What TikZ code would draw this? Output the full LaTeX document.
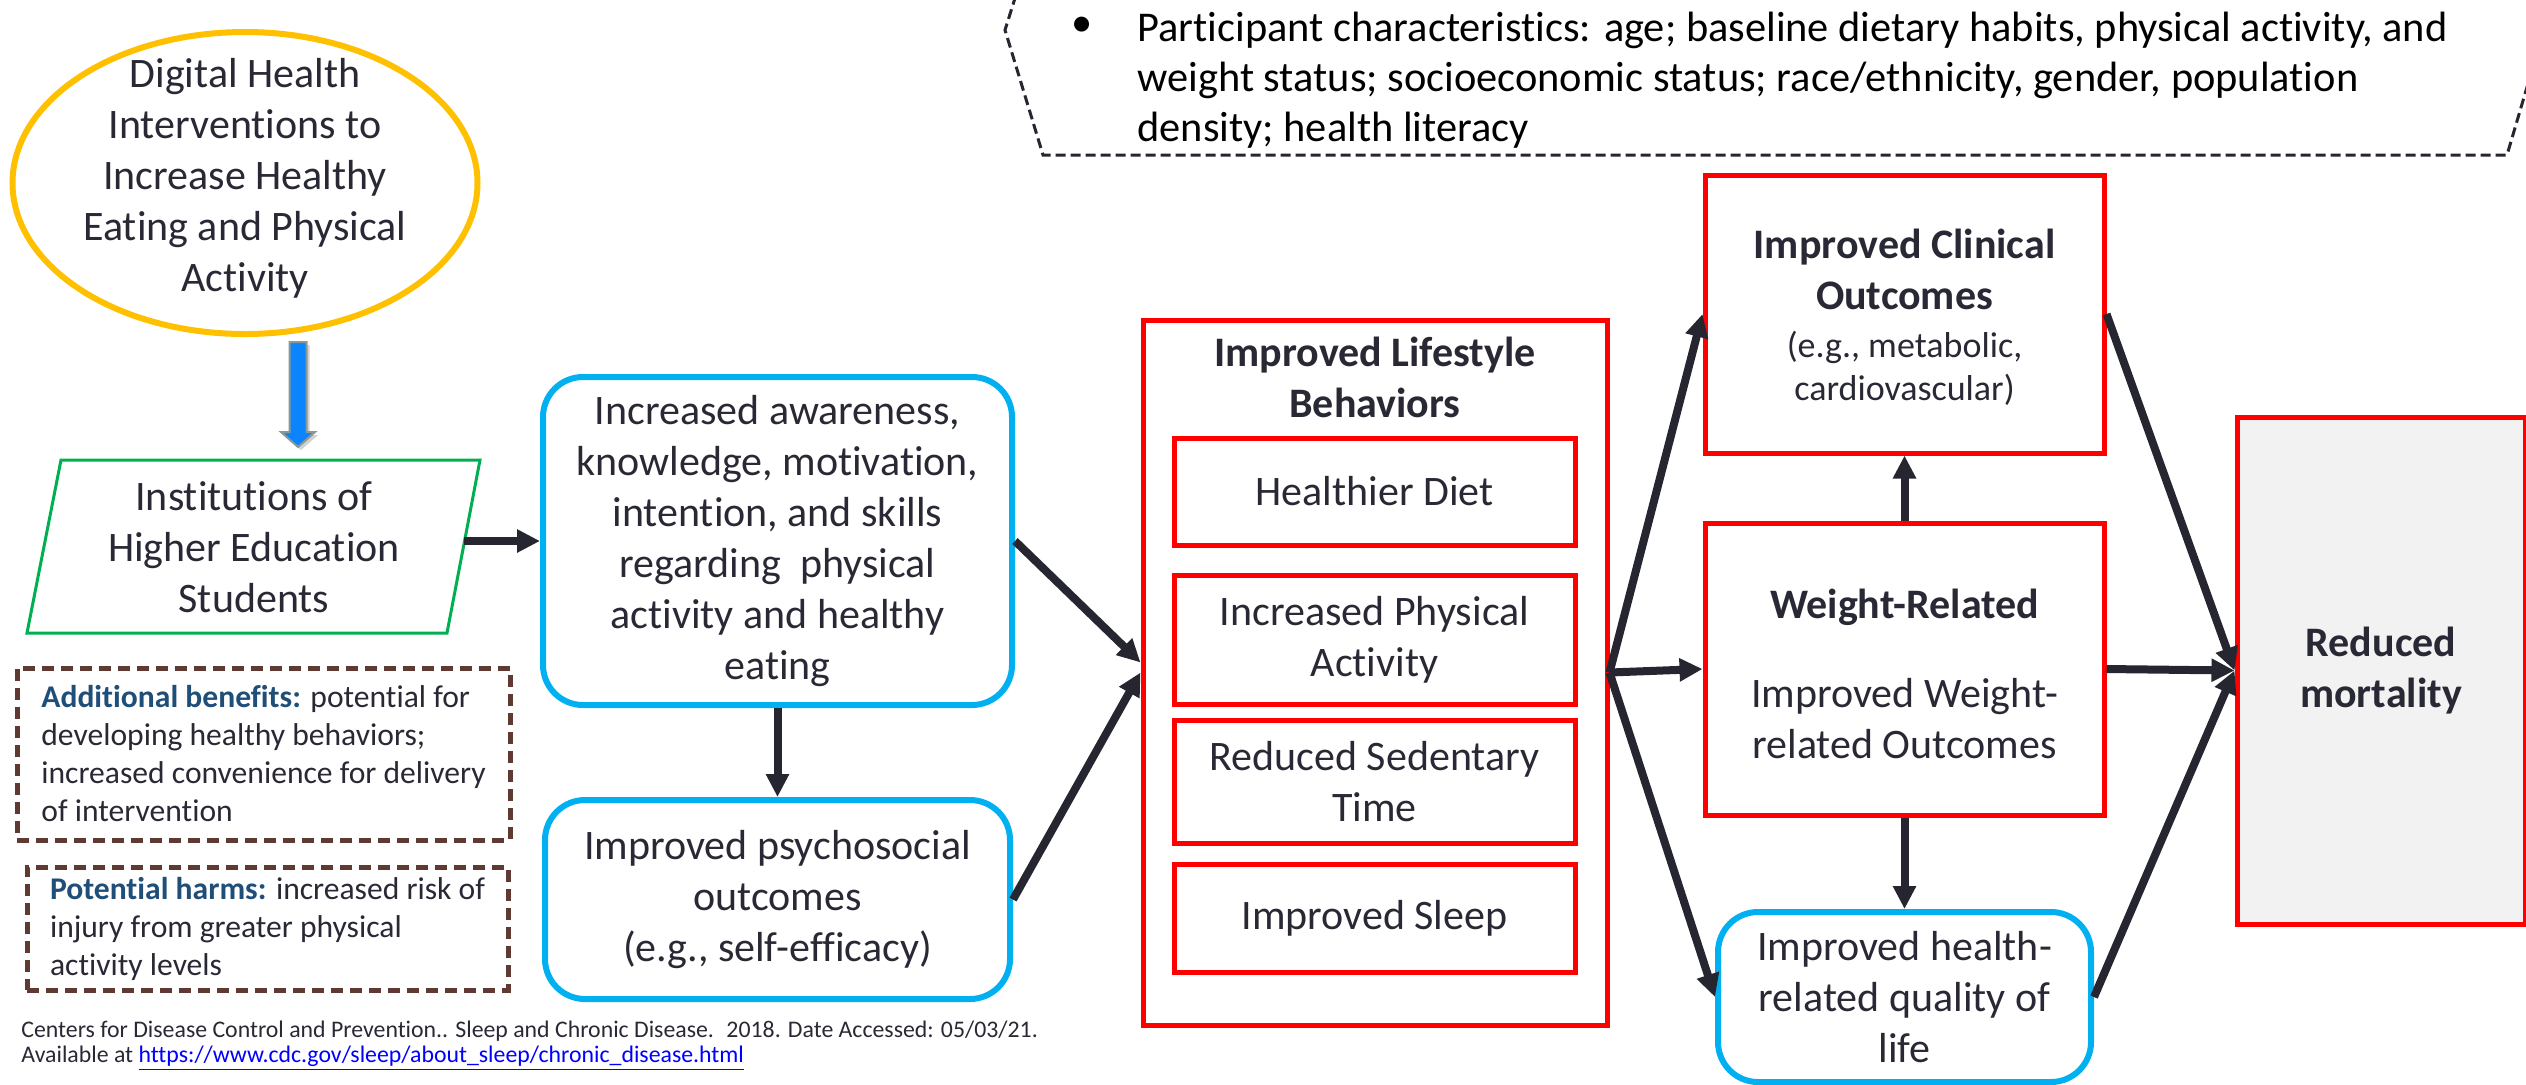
\documentclass[tikz,border=0pt]{standalone}
\usepackage{fontspec}
\setmainfont{Carlito}[Ligatures={NoCommon}]
\usetikzlibrary{arrows.meta,shapes.geometric}
\definecolor{txt}{HTML}{292935}
\definecolor{redb}{HTML}{FF0000}
\definecolor{blueb}{HTML}{00B0F0}
\definecolor{yel}{HTML}{FFC000}
\definecolor{grn}{HTML}{00B050}
\definecolor{brn}{HTML}{5E3A32}
\definecolor{navy}{HTML}{1F4E79}
\definecolor{arr}{HTML}{262631}
\definecolor{mortfill}{HTML}{F2F2F2}
\definecolor{linkc}{HTML}{0000FF}
\definecolor{barrow}{HTML}{0A84FF}
\definecolor{barrowedge}{HTML}{8A9A92}
\begin{document}
\begin{tikzpicture}[x=0.5pt,y=-0.5pt,
  body/.style={font=\fontsize{21}{25.5}\selectfont, text=txt, align=center},
  boldbody/.style={font=\fontsize{21}{25.5}\selectfont\bfseries, text=txt, align=center},
  redbox/.style={draw=redb, line width=2.5pt, inner sep=0pt},
  bluebox/.style={draw=blueb, line width=3pt, rounded corners=20pt, inner sep=0pt},
  dashbox/.style={draw=brn, line width=2.5pt, dash pattern=on 6pt off 3.5pt, inner sep=0pt,
     font=\fontsize{15.8}{19}\selectfont, text=txt, align=left},
  flow/.style={draw=arr, line width=4pt, -{Triangle[length=11.5pt,width=11pt]}},
]
\useasboundingbox (0,0) rectangle (2526,1084);

% top banner
\draw[arr, line width=1.5pt, dash pattern=on 5pt off 2.5pt]
  (1016,-5) -- (1005,30) -- (1043,155) -- (2507,155) -- (2532,70);
\node[font=\fontsize{21.2}{25}\selectfont, text=black, inner sep=0pt] (bul) at (1082,27) {\textbullet};
\node[anchor=north west, inner sep=0pt, font=\fontsize{21.2}{25}\selectfont, text=black, align=left]
  (chars) at (1137,12) {Participant characteristics: age; baseline dietary habits, physical activity, and\\weight status; socioeconomic status; race/ethnicity, gender, population\\density; health literacy};

% ellipse
\node[ellipse, draw=yel, line width=3pt, minimum width=232.5pt, minimum height=151pt, inner sep=0pt] (dhi) at (245,183) {};
\node[body] (dhitxt) at (245,178) {Digital Health\\Interventions to\\Increase Healthy\\Eating and Physical\\Activity};

% blue block arrow
\fill[black, opacity=0.18] (292.5,345) -- (309.5,345) -- (309.5,435) -- (318,435) -- (301,450) -- (284,435) -- (292.5,435) -- cycle;
\draw[draw=barrowedge, line width=1pt, fill=barrow]
  (289.5,342) -- (306.5,342) -- (306.5,432) -- (315,432) -- (298,447) -- (281,432) -- (289.5,432) -- cycle;

% students parallelogram
\draw[grn, line width=1.5pt] (61,460) -- (480,460) -- (447,633) -- (27,633) -- cycle;
\node[body] (stu) at (254,547) {Institutions of\\Higher Education\\Students};
\coordinate (stuR) at (464,541);

% dashed boxes
\node[dashbox, minimum width=246.5pt, minimum height=86pt] (benef) at (263.5,754)
  {\textcolor{navy}{\bfseries Additional benefits:} potential for\\developing healthy behaviors;\\increased convenience for delivery\\of intervention};
\node[dashbox, minimum width=240.5pt, minimum height=61.5pt] (harm) at (267.5,928.5)
  {\textcolor{navy}{\bfseries Potential harms:} increased risk of\\injury from greater physical\\activity levels};

% citation
\node[anchor=north west, inner sep=0pt, font=\fontsize{11.9}{12.5}\selectfont, text=txt, align=left] (cite) at (21,1021)
  {Centers for Disease Control and Prevention.. Sleep and Chronic Disease.~ 2018. Date Accessed: 05/03/21.\\Available at \textcolor{linkc}{\underline{https://www.cdc.gov/sleep/about\_sleep/chronic\_disease.html}}};

% blue rounded boxes
\node[bluebox, body, minimum width=234.5pt, minimum height=164pt] (aware) at (777.5,541)
  {Increased awareness,\\knowledge, motivation,\\intention, and skills\\regarding~~physical\\activity and healthy\\eating};
\node[bluebox, body, minimum width=232.5pt, minimum height=99.5pt] (psych) at (777.5,899.5)
  {Improved psychosocial\\outcomes\\(e.g., self-efficacy)};

% lifestyle
\node[redbox, minimum width=232pt, minimum height=352.5pt] (life) at (1375,672.5) {};
\node[boldbody] (lifehead) at (1375,377) {Improved Lifestyle\\Behaviors};
\node[redbox, body, minimum width=200.5pt, minimum height=53.5pt] (diet) at (1374.5,491.5) {Healthier Diet};
\node[redbox, body, minimum width=200.5pt, minimum height=64.5pt] (pa) at (1374.5,639.5) {Increased Physical\\Activity};
\node[redbox, body, minimum width=200.5pt, minimum height=61.5pt] (sed) at (1374.5,781.5) {Reduced Sedentary\\Time};
\node[redbox, body, minimum width=200.5pt, minimum height=54pt] (sleep) at (1374.5,918) {Improved Sleep};

% clinical
\node[redbox, minimum width=199.5pt, minimum height=139pt] (clin) at (1904.5,314) {};
\node[boldbody] (clinhead) at (1904.5,269) {Improved Clinical\\Outcomes};
\node[body, font=\fontsize{18}{21.5}\selectfont] (clinsub) at (1904.5,368) {(e.g., metabolic,\\cardiovascular)};

% weight
\node[redbox, minimum width=199.5pt, minimum height=146pt] (wt) at (1904.5,669) {};
\node[boldbody] (wthead) at (1904.5,607) {Weight-Related};
\node[body] (wtsub) at (1904.5,719) {Improved Weight-\\related Outcomes};

% HRQoL
\node[bluebox, body, minimum width=186.5pt, minimum height=85pt] (hrq) at (1904.5,997)
  {Improved health-\\related quality of\\life};

% mortality
\node[redbox, fill=mortfill, boldbody, minimum width=144pt, minimum height=253.5pt] (mort) at (2381,670.5)
  {Reduced\\mortality};

% connectors
\draw[flow] (stuR) -- (aware.west);
\draw[flow] (aware.south) -- (psych.north);
\draw[flow] (aware.east) -- ([yshift=5pt]life.west);
\draw[flow] (psych.east) -- (life.west);
\draw[flow] (life.east) -- (clin.west);
\draw[flow] (life.east) -- (wt.west);
\draw[flow] (life.east) -- (hrq.west);
\draw[flow] (wt.north) -- (clin.south);
\draw[flow] (wt.south) -- (hrq.north);
\draw[flow] (clin.east) -- (mort.west);
\draw[flow] (wt.east) -- (mort.west);
\draw[flow] (hrq.east) -- (mort.west);
\end{tikzpicture}
\end{document}
